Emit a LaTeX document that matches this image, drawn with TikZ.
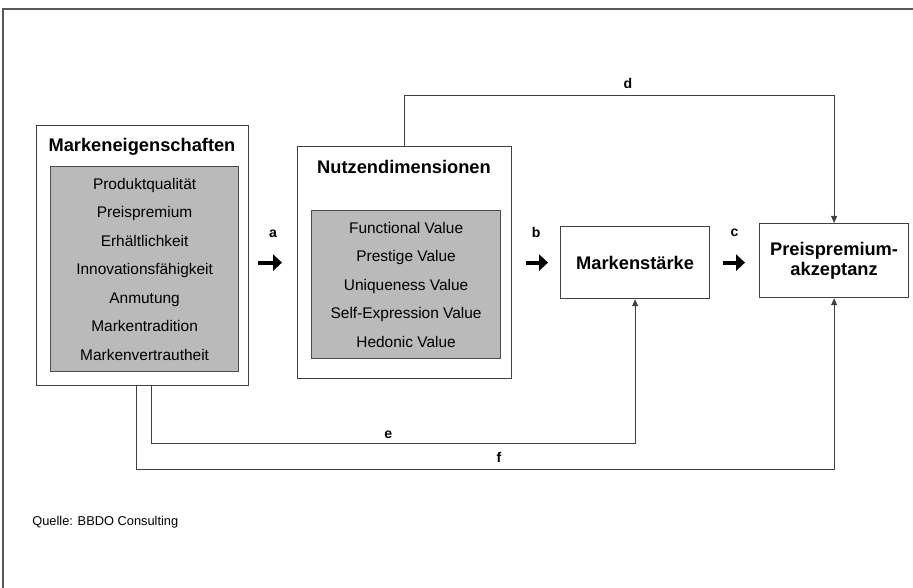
\documentclass[tikz,border=0pt]{standalone}
\usepackage{fontspec}
\setmainfont{Liberation Sans}
\usetikzlibrary{arrows.meta}

\def\cB{black!75}
\def\cL{black!70}
\def\cG{black!27}
\def\cF{black!65}

\tikzstyle{box} = [draw=\cB, rectangle, anchor=north west,
                   line width=0.7pt, inner sep=0mm]
\tikzstyle{list} = [box, draw=\cL, fill=\cG, align=center,
                    font=\fontsize{8.8}{16.2}\selectfont]
\tikzstyle{title} = [align=center,
                     font=\fontsize{10.4}{11.6}\selectfont\bfseries]
\tikzstyle{lbl} = [font=\fontsize{8}{9}\selectfont\bfseries]
\tikzstyle{fat} = [line width=2.3pt, -{Triangle[length=5pt,width=9pt]}]
\tikzstyle{link} = [draw=\cB, line width=0.55pt,
                    -{Triangle[length=4pt,width=3.4pt]}]

\begin{document}
\begin{tikzpicture}[x=0.02cm,y=-0.02cm]

\useasboundingbox (0,0) rectangle (913,588);
\draw[\cF,line width=0.9pt] (913,9) -- (3,9) -- (3,588);

\node[box,minimum width=4.24cm,minimum height=5.2cm]
     at (36,125) (merk) {};
\node[title] at (142,147) (merkT) {Markeneigenschaften};
\node[list,minimum width=3.76cm,minimum height=4.1cm]
     at (50,166) (merkL)
     {Produktqualit\"at\\Preispremium\\Erh\"altlichkeit\\
      Innovationsf\"ahigkeit\\Anmutung\\Markentradition\\
      Markenvertrautheit};

\node[box,minimum width=4.28cm,minimum height=4.64cm]
     at (297,146) (nutz) {};
\node[title] at (404,167) (nutzT) {Nutzendimensionen};
\node[list,minimum width=3.78cm,minimum height=2.96cm]
     at (311,210) (nutzL)
     {Functional Value\\Prestige Value\\Uniqueness Value\\
      Self-Expression Value\\Hedonic Value};

\node[box,title,minimum width=2.98cm,minimum height=1.44cm]
     at (560,226) (mst) {Markenst\"arke};
\node[box,title,minimum width=2.98cm,minimum height=1.48cm]
     at (759,223) (preis) {Preispremium-\\akzeptanz};

\draw[fat,shorten <=0.18cm,shorten >=0.3cm]
     (merk.east |- mst.west)
     -- node[lbl,above=0.34cm]{a}
     (nutz.west |- mst.west);
\draw[fat,shorten <=0.28cm,shorten >=0.24cm]
     (nutz.east |- mst.west)
     -- node[lbl,above=0.34cm]{b}
     (mst.west);
\draw[fat,shorten <=0.26cm,shorten >=0.28cm]
     (mst.east)
     -- node[lbl,above=0.36cm]{c}
     (preis.west |- mst.east);

\draw[link] (nutz.north) -- ++(0,-51)
     -| node[lbl,pos=0.26,above]{d} (preis.north);
\draw[link] (merk.south west) ++(115,0) -- ++(0,57)
     -| node[lbl,pos=0.245,above=-1pt]{e} (mst.south);
\draw[link] (merk.south west) ++(100,0) -- ++(0,83)
     -| node[lbl,pos=0.26,above]{f} (preis.south);

\node[anchor=west,inner sep=0mm,font=\fontsize{7.3}{8.5}\selectfont]
     at (32,522) (src) {Quelle: BBDO Consulting};

\end{tikzpicture}
\end{document}
